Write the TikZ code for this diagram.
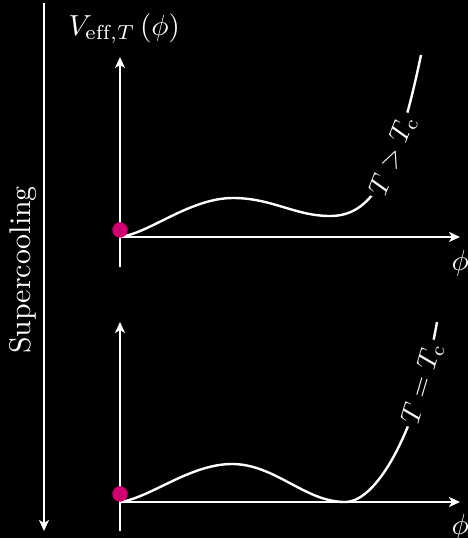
\documentclass[tikz,border=0pt]{standalone}
\usepackage{fontspec}
\usetikzlibrary{arrows.meta}
\definecolor{dotpink}{RGB}{208,0,112}
\begin{document}
\begin{tikzpicture}[x=1pt,y=-1pt,
  big/.style={scale=2.9, text=white, inner sep=0pt},
  axis/.style={draw=white, line width=2pt, -{Stealth[length=11pt,width=10pt,inset=3pt]}},
  pot/.style={draw=white, line width=2.4pt},
  lbl/.style={scale=2.75, text=white, fill=black, sloped, inner sep=1.2pt},
  dot/.style={circle, fill=dotpink, minimum size=15.5pt, inner sep=0pt}]
\fill[black] (0,0) rectangle (468,538);
\useasboundingbox (0,0) rectangle (468,538);
% supercooling arrow
\coordinate (sT) at (44,3);
\coordinate (sB) at (44,531);
\draw[axis, line width=2.4pt] (sT) -- (sB);
\node[big, scale=1.03, rotate=90, anchor=base] (sc) at (30,270) {Supercooling};
% top plot
\coordinate (O1) at (120,237);
\coordinate (Y1b) at (120,267);
\coordinate (Y1t) at (120,57);
\coordinate (X1e) at (460,237);
\draw[axis] (Y1b) -- (Y1t);
\draw[axis] (O1) -- (X1e);
\node[big, anchor=base west] (V) at (68,35) {$V_{\mathrm{eff},T}\left(\phi\right)$};
\node[big, anchor=base west] (phi1) at (451,270) {$\phi$};
\draw[pot] (O1) .. controls (150,233) and (190,198) .. (233,198)
  .. controls (272,198) and (295,216) .. (330,216)
  .. controls (370,216) and (395,180) .. (421,55)
  node[lbl, pos=0.65] (l1) {$T>T_{\mathrm{c}}$};
\node[dot] (d1) at (120,230) {};
% bottom plot
\coordinate (O2) at (120,502);
\coordinate (Y2b) at (120,531);
\coordinate (Y2t) at (120,322);
\coordinate (X2e) at (460,502);
\draw[axis] (Y2b) -- (Y2t);
\draw[axis] (O2) -- (X2e);
\node[big, anchor=base west] (phi2) at (451,534) {$\phi$};
\draw[pot] (O2) .. controls (150,498) and (190,464) .. (232,464)
  .. controls (275,464) and (305,502) .. (345,502)
  .. controls (380,502) and (420,420) .. (437,322)
  node[lbl, pos=0.78] (l2) {$T=T_{\mathrm{c}}$};
\node[dot] (d2) at (120,494) {};
\end{tikzpicture}
\end{document}
